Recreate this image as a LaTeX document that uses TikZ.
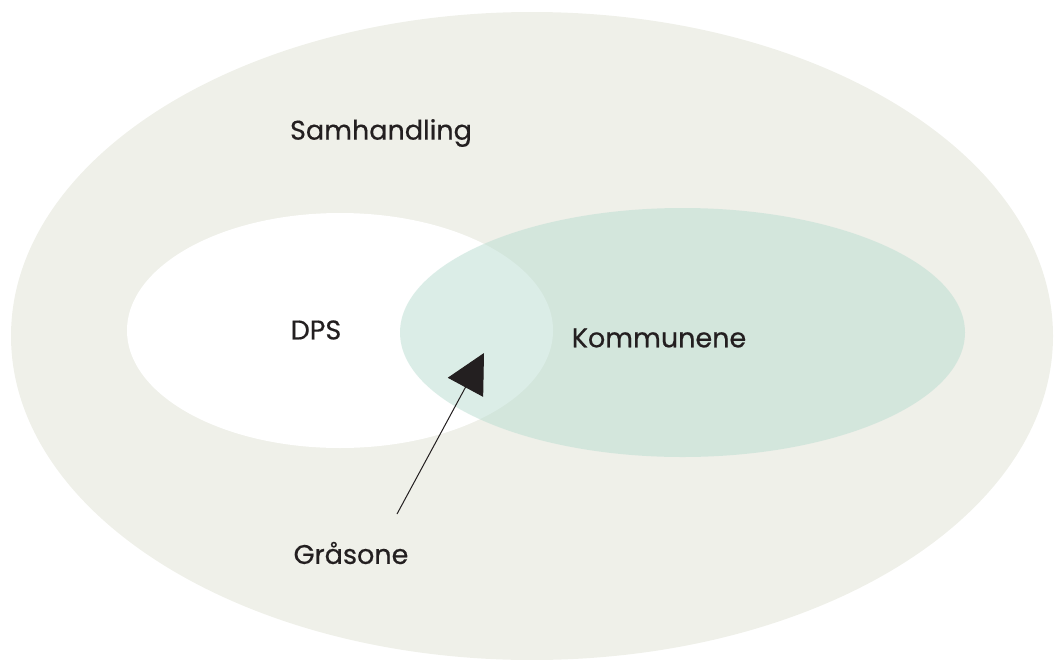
\documentclass[tikz,border=0pt]{standalone}
\usepackage{fontspec}
\setmainfont{Poppins}[UprightFeatures={FakeBold=0.5}]
\usetikzlibrary{arrows.meta}
\definecolor{outerbg}{RGB}{239,240,233}
\definecolor{komm}{RGB}{185,221,209}
\definecolor{txt}{RGB}{35,31,32}
\tikzset{
  lbl/.style={font=\fontsize{27}{31}\selectfont, text=txt, inner sep=0pt},
}
\begin{document}
\begin{tikzpicture}[x=1pt,y=-1pt]
\useasboundingbox (0,0) rectangle (1057,659);
\fill[outerbg] (532,336) ellipse [x radius=521, y radius=324];
\fill[white] (340,330.5) ellipse [x radius=213, y radius=117.5];
\fill[komm, fill opacity=0.5] (682.5,332.5) ellipse [x radius=282.5, y radius=124.5];
\node[lbl] (sam) at (381,133) {Samhandling};
\node[lbl] (dps) at (316,330) {DPS};
\node[lbl] (kom) at (659,338) {Kommunene};
\node[lbl] (gra) at (351,553) {Gråsone};
\coordinate (tip) at (484,353);
\draw[txt, line width=1pt, -{Triangle[length=39pt,width=40pt]}] (397,514) -- (tip);
\end{tikzpicture}
\end{document}
